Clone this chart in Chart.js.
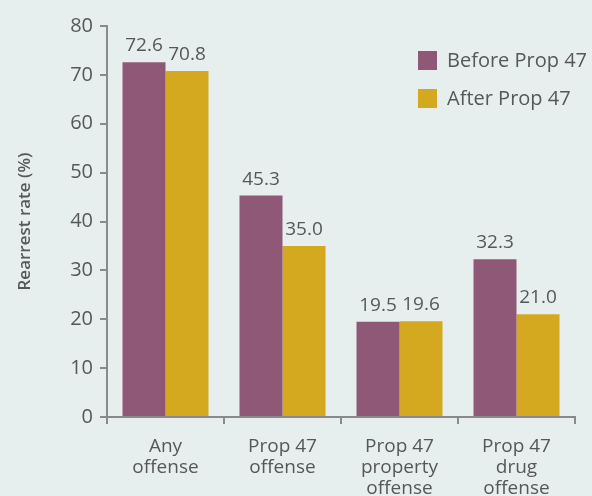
<!DOCTYPE html>
<html><head><meta charset="utf-8">
<script src="https://cdn.jsdelivr.net/npm/chart.js@4"></script>
<style>
html,body{margin:0;padding:0;background:#e7efee;}
#wrap{width:592px;height:496px;}
</style></head><body>
<div id="wrap"><canvas id="c" width="592" height="496"></canvas></div>
<script>
const categories = [["Any","offense"],["Prop 47","offense"],["Prop 47","property","offense"],["Prop 47","drug","offense"]];
const seriesNames = ["Before Prop 47","After Prop 47"];
const beforeValues = [72.6, 45.3, 19.5, 32.3];
const afterValues = [70.8, 35.0, 19.6, 21.0];
const yTicks = [0,10,20,30,40,50,60,70,80];

const FONT = "'Open Sans'";
const TXT = "#555759";
const AX = "#8a8a8a";

const valueLabels = {
  id:'valueLabels',
  afterDatasetsDraw(chart){
    const ctx = chart.ctx;
    ctx.save();
    ctx.font = "19px " + FONT;
    ctx.fillStyle = TXT;
    ctx.textAlign = "center";
    ctx.textBaseline = "alphabetic";
    chart.data.datasets.forEach((ds,i)=>{
      chart.getDatasetMeta(i).data.forEach((bar,j)=>{
        ctx.fillText(ds.data[j].toFixed(1), bar.x, bar.y - 11);
      });
    });
    ctx.restore();
  }
};
const customLegend = {
  id:'customLegend',
  afterDraw(chart){
    const ctx = chart.ctx;
    ctx.save();
    ctx.font = "20px " + FONT;
    ctx.textBaseline = "middle";
    ctx.textAlign = "left";
    chart.data.datasets.forEach((ds,i)=>{
      const y = 51 + i*38;
      ctx.fillStyle = ds.backgroundColor;
      ctx.fillRect(418, y, 19, 19);
      ctx.fillStyle = TXT;
      ctx.fillText(ds.label, 447, y + 10);
    });
    ctx.restore();
  }
};

new Chart(document.getElementById('c'), {
  type:'bar',
  data:{
    labels: categories,
    datasets:[
      {label: seriesNames[0], data: beforeValues, backgroundColor:"#905877"},
      {label: seriesNames[1], data: afterValues, backgroundColor:"#d4a81f"}
    ]
  },
  options:{
    responsive:false,
    animation:false,
    devicePixelRatio:1,
    layout:{padding:{top:26,right:17,left:0,bottom:0}},
    categoryPercentage:0.735,
    barPercentage:1.0,
    plugins:{legend:{display:false},tooltip:{enabled:false}},
    scales:{
      x:{
        grid:{display:true, drawOnChartArea:false, offset:true, tickLength:7, color:AX, lineWidth:2},
        border:{display:true, color:AX, width:2},
        ticks:{color:TXT, font:{family:FONT, size:19, lineHeight:1.1}, padding:12, maxRotation:0, autoSkip:false},
        afterFit(s){ s.height = 79; }
      },
      y:{
        min:0, max:80,
        afterBuildTicks(s){ s.ticks = yTicks.map(v=>({value:v})); },
        grid:{display:true, drawOnChartArea:false, tickLength:7, color:AX, lineWidth:2},
        border:{display:true, color:AX, width:2},
        ticks:{color:TXT, font:{family:FONT, size:20}, padding:7},
        title:{display:true, text:"Rearrest rate (%)", color:TXT, font:{family:FONT, size:17, weight:'600'}, padding:{top:15,bottom:0}},
        afterFit(s){ s.width = 107; }
      }
    }
  },
  plugins:[valueLabels, customLegend]
});
</script>
</body></html>
